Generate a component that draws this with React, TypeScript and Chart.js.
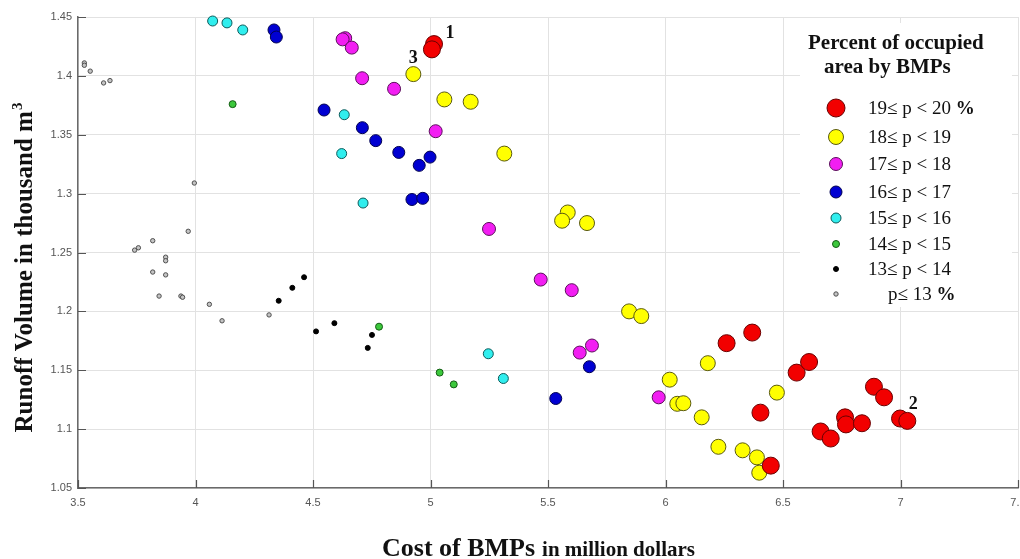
import React, { useEffect, useRef } from "react";
import { Chart, registerables } from "chart.js";

Chart.register(...registerables);

// ---------- data ----------
const xTickValues = [3.5, 4, 4.5, 5, 5.5, 6, 6.5, 7, 7.5];
const yTickValues = [1.05, 1.1, 1.15, 1.2, 1.25, 1.3, 1.35, 1.4, 1.45];

// [cost (million $), runoff volume (thousand m3)]
const p19to20: [number, number][] = [
  [5.015, 1.427], [5.006, 1.4225], [6.26, 1.173], [6.369, 1.182], [6.558, 1.148],
  [6.611, 1.157], [6.404, 1.114], [6.448, 1.069], [6.66, 1.098], [6.703, 1.092],
  [6.764, 1.11], [6.768, 1.104], [6.836, 1.105], [6.887, 1.136], [6.93, 1.127],
  [6.998, 1.109], [7.029, 1.107],
];
const p18to19: [number, number][] = [
  [4.927, 1.4015], [5.059, 1.38], [5.171, 1.378], [5.314, 1.334], [5.584, 1.284],
  [5.56, 1.277], [5.666, 1.275], [5.845, 1.2], [5.897, 1.196], [6.018, 1.142],
  [6.18, 1.156], [6.05, 1.1215], [6.076, 1.122], [6.154, 1.11], [6.474, 1.131],
  [6.225, 1.085], [6.328, 1.082], [6.389, 1.076], [6.399, 1.063],
];
const p17to18: [number, number][] = [
  [4.637, 1.432], [4.626, 1.431], [4.665, 1.424], [4.709, 1.398], [4.845, 1.389],
  [5.022, 1.353], [5.249, 1.27], [5.469, 1.227], [5.601, 1.218], [5.687, 1.171],
  [5.635, 1.165], [5.971, 1.127],
];
const p16to17: [number, number][] = [
  [4.334, 1.439], [4.344, 1.433], [4.547, 1.371], [4.71, 1.356], [4.767, 1.345],
  [4.865, 1.335], [4.998, 1.331], [4.952, 1.324], [4.921, 1.295], [4.967, 1.296],
  [5.676, 1.153], [5.533, 1.126],
];
const p15to16: [number, number][] = [
  [4.073, 1.4466], [4.134, 1.445], [4.201, 1.439], [4.633, 1.367], [4.622, 1.334],
  [4.713, 1.292], [5.246, 1.164], [5.31, 1.143],
];
const p14to15: [number, number][] = [
  [4.158, 1.376], [4.781, 1.187], [5.039, 1.148], [5.099, 1.138],
];
const p13to14: [number, number][] = [
  [4.354, 1.209], [4.412, 1.22], [4.462, 1.229], [4.513, 1.183], [4.591, 1.19],
  [4.751, 1.18], [4.733, 1.169],
];
const pUpTo13: [number, number][] = [
  [3.527, 1.411], [3.527, 1.409], [3.552, 1.404], [3.609, 1.394], [3.636, 1.396],
  [3.995, 1.309], [3.969, 1.268], [3.741, 1.252], [3.757, 1.254], [3.818, 1.26],
  [3.873, 1.246], [3.873, 1.243], [3.818, 1.2334], [3.873, 1.231], [3.845, 1.213],
  [3.938, 1.213], [3.945, 1.212], [4.059, 1.206], [4.113, 1.192], [4.313, 1.197],
];

const seriesData = [p19to20, p18to19, p17to18, p16to17, p15to16, p14to15, p13to14, pUpTo13];
const legendLabels = ["19\u2264 p < 20", "18\u2264 p < 19", "17\u2264 p < 18", "16\u2264 p < 17",
  "15\u2264 p < 16", "14\u2264 p < 15", "13\u2264 p < 14", "p\u2264 13"];
const legendSuffix = [" %", "", "", "", "", "", "", " %"];

const fillColors = ["#f20000", "#ffff00", "#f21ef2", "#0000d2", "#30eeee", "#3cc83c", "#000000", "#c4c4c4"];
const edgeColors = ["#6a0000", "#5a5a10", "#5a105a", "#000050", "#0d5a5a", "#145c14", "#000000", "#505050"];
const radii = [8.5, 7.5, 6.5, 6, 5, 3.5, 2.5, 2.2];
const legendRadii = [9, 7.5, 6.5, 6, 5, 3.5, 2.5, 2.2];

const annotations = [
  { text: "1", x: 5.015, y: 1.427, dx: 16, dy: -11 },
  { text: "3", x: 4.927, y: 1.4015, dx: 0, dy: -16 },
  { text: "2", x: 7.029, y: 1.107, dx: 6, dy: -17 },
];

const SERIF = "'Liberation Serif', 'Times New Roman', serif";
const SANS = "'Liberation Sans', Arial, sans-serif";

const fmt = (v: number) => String(Number(Number(v).toFixed(2)));

const decorPlugin = {
  id: "decor",
  afterDraw(chart: any) {
    const ctx = chart.ctx as CanvasRenderingContext2D;
    const xs = chart.scales.x;
    const ys = chart.scales.y;
    const area = chart.chartArea;

    // inward tick marks
    ctx.save();
    ctx.strokeStyle = "#555";
    ctx.lineWidth = 1.2;
    ctx.beginPath();
    xTickValues.forEach((v) => {
      const px = Math.round(xs.getPixelForValue(v)) + 0.5;
      ctx.moveTo(px, area.bottom);
      ctx.lineTo(px, area.bottom - 8);
    });
    yTickValues.forEach((v) => {
      const py = Math.round(ys.getPixelForValue(v)) + 0.5;
      ctx.moveTo(area.left, py);
      ctx.lineTo(area.left + 8, py);
    });
    ctx.stroke();
    ctx.restore();

    // point annotations
    ctx.save();
    ctx.fillStyle = "#111";
    ctx.font = `bold 18px ${SERIF}`;
    ctx.textAlign = "center";
    ctx.textBaseline = "middle";
    annotations.forEach((a) => {
      ctx.fillText(a.text, xs.getPixelForValue(a.x) + a.dx, ys.getPixelForValue(a.y) + a.dy);
    });
    ctx.restore();

    // legend box
    ctx.save();
    ctx.fillStyle = "#ffffff";
    ctx.fillRect(800, 23, 212, 284);
    ctx.fillStyle = "#111";
    ctx.font = `bold 21px ${SERIF}`;
    ctx.textBaseline = "alphabetic";
    ctx.textAlign = "left";
    ctx.fillText("Percent of occupied", 808, 49);
    ctx.fillText("area by BMPs", 824, 73);
    const rowY = [108, 137, 164, 192, 218, 244, 269, 294];
    legendLabels.forEach((lab, i) => {
      const y = rowY[i];
      ctx.beginPath();
      ctx.arc(836, y, legendRadii[i], 0, Math.PI * 2);
      ctx.fillStyle = fillColors[i];
      ctx.fill();
      ctx.lineWidth = 1;
      ctx.strokeStyle = edgeColors[i];
      ctx.stroke();
      ctx.fillStyle = "#111";
      ctx.textBaseline = "middle";
      ctx.font = `19px ${SERIF}`;
      const tx = i === 7 ? 888 : 868;
      ctx.fillText(lab, tx, y + 1);
      if (legendSuffix[i]) {
        const w = ctx.measureText(lab).width;
        ctx.font = `bold 19px ${SERIF}`;
        ctx.fillText(legendSuffix[i], tx + w, y + 1);
      }
    });
    ctx.restore();

    // axis titles
    ctx.save();
    ctx.fillStyle = "#111";
    ctx.textBaseline = "alphabetic";
    ctx.textAlign = "left";
    ctx.font = `bold 26px ${SERIF}`;
    const t1 = "Cost of BMPs";
    ctx.fillText(t1, 382, 556);
    const w1 = ctx.measureText(t1).width;
    ctx.font = `bold 21px ${SERIF}`;
    ctx.fillText("in million dollars", 382 + w1 + 7, 556);
    ctx.restore();

    ctx.save();
    ctx.fillStyle = "#111";
    ctx.translate(32, 268);
    ctx.rotate(-Math.PI / 2);
    ctx.textAlign = "left";
    ctx.textBaseline = "alphabetic";
    ctx.font = `bold 25px ${SERIF}`;
    const yt = "Runoff Volume in thousand m";
    const wm = ctx.measureText(yt).width;
    ctx.font = `bold 15px ${SERIF}`;
    const ws = ctx.measureText("3").width;
    const start = -(wm + ws) / 2;
    ctx.font = `bold 25px ${SERIF}`;
    ctx.fillText(yt, start, 0);
    ctx.font = `bold 15px ${SERIF}`;
    ctx.fillText("3", start + wm + 1, -10);
    ctx.restore();
  },
};

export default function App() {
  const canvasRef = useRef<HTMLCanvasElement | null>(null);

  useEffect(() => {
    if (!canvasRef.current) return;
    const chart = new Chart(canvasRef.current, {
      type: "scatter",
      data: {
        datasets: seriesData.map((pts, i) => ({
          label: legendLabels[i],
          data: pts.map(([x, y]) => ({ x, y })),
          backgroundColor: fillColors[i],
          borderColor: edgeColors[i],
          borderWidth: 1,
          pointRadius: radii[i],
          pointHoverRadius: radii[i],
          clip: false as any,
        })),
      },
      options: {
        animation: false,
        responsive: false,
        devicePixelRatio: 1,
        layout: { autoPadding: false, padding: { top: 17, right: 2, left: 0, bottom: 0 } },
        plugins: {
          legend: { display: false },
          tooltip: { enabled: false },
          title: { display: false },
        },
        scales: {
          x: {
            type: "linear",
            min: 3.5,
            max: 7.5,
            afterBuildTicks: (scale: any) => {
              scale.ticks = xTickValues.map((v) => ({ value: v }));
            },
            afterFit: (scale: any) => {
              scale.height = 71;
              scale.paddingLeft = 0;
              scale.paddingRight = 0;
            },
            ticks: {
              callback: (v: any) => fmt(v),
              color: "#555",
              font: { family: SANS, size: 11 },
              padding: 8,
              maxRotation: 0,
              autoSkip: false,
            },
            grid: { color: "#e2e2e2", lineWidth: 1, drawTicks: false },
            border: { display: true, color: "#6a6a6a", width: 1.5 },
          },
          y: {
            type: "linear",
            min: 1.05,
            max: 1.45,
            afterBuildTicks: (scale: any) => {
              scale.ticks = yTickValues.map((v) => ({ value: v }));
            },
            afterFit: (scale: any) => {
              scale.width = 78;
              scale.paddingTop = 0;
              scale.paddingBottom = 0;
            },
            ticks: {
              callback: (v: any) => fmt(v),
              color: "#555",
              font: { family: SANS, size: 11 },
              padding: 6,
              autoSkip: false,
            },
            grid: { color: "#e2e2e2", lineWidth: 1, drawTicks: false },
            border: { display: true, color: "#6a6a6a", width: 1.5 },
          },
        },
      },
      plugins: [decorPlugin],
    });
    return () => chart.destroy();
  }, []);

  return (
    <div style={{ position: "absolute", left: 0, top: 0, width: 1020, height: 559, overflow: "hidden", background: "#fff" }}>
      <canvas ref={canvasRef} width={1020} height={559} style={{ display: "block" }} />
    </div>
  );
}
